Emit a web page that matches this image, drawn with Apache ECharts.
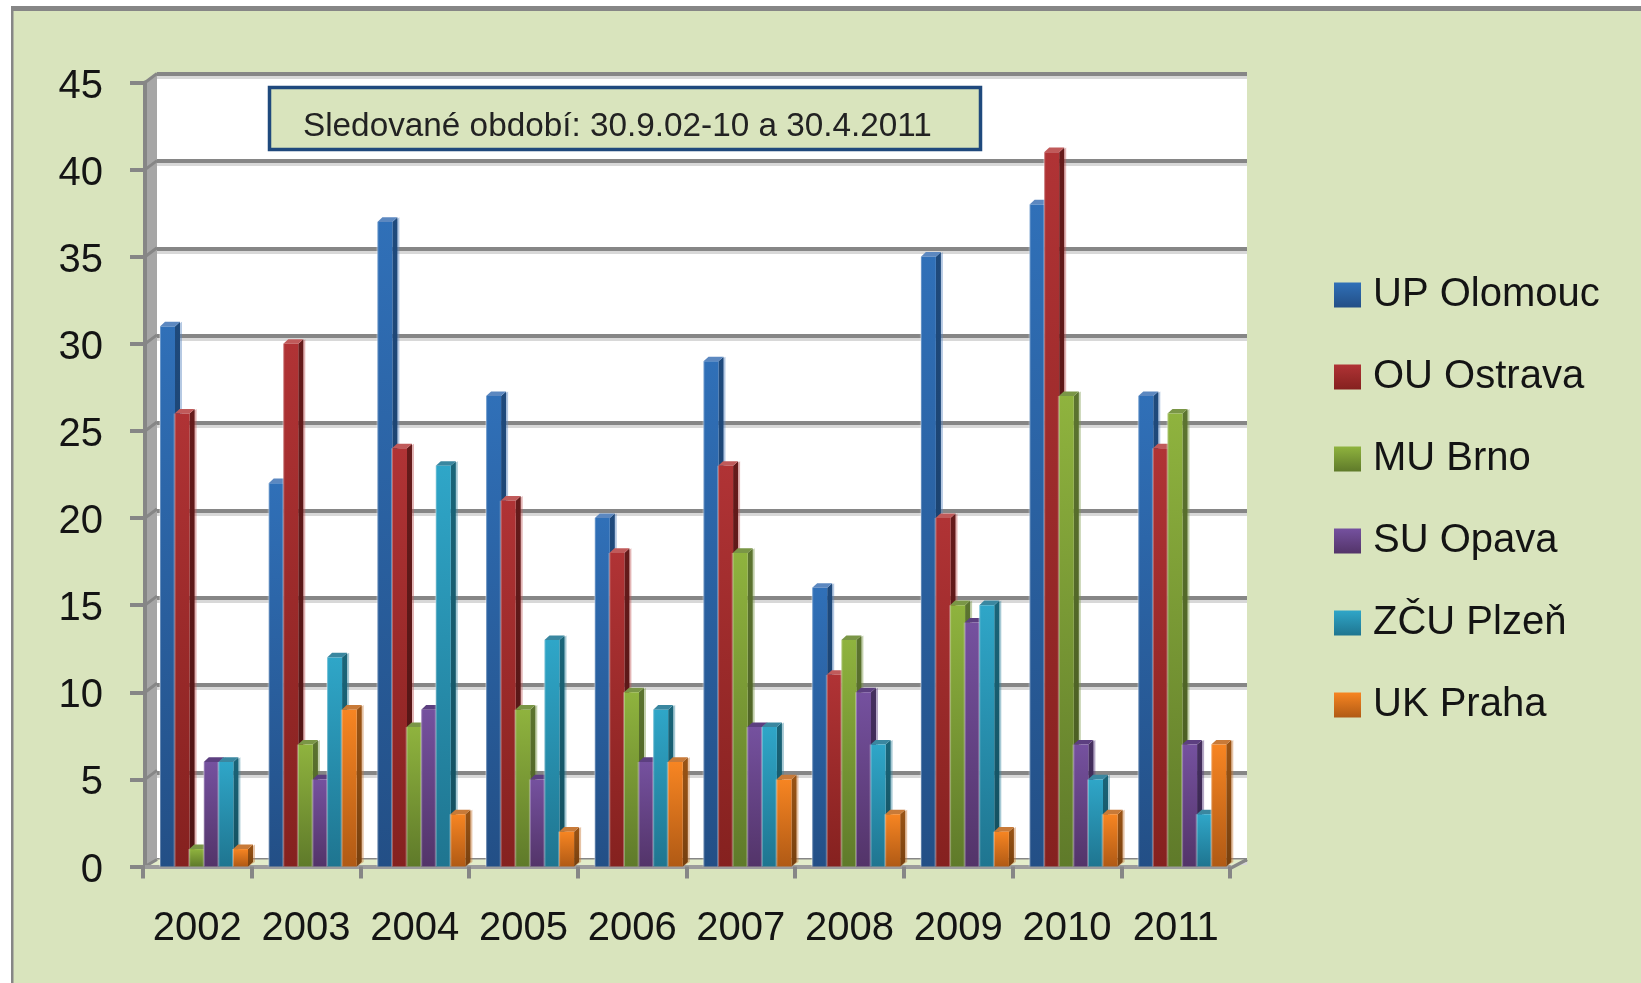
<!DOCTYPE html>
<html>
<head>
<meta charset="utf-8">
<style>html,body{margin:0;padding:0;background:#fff;overflow:hidden}#c{width:1641px;height:983px}</style>
<script src="https://cdn.jsdelivr.net/npm/echarts@6/dist/echarts.min.js"></script>
</head>
<body>
<div id="c"></div>
<script>
const categories = ['2002','2003','2004','2005','2006','2007','2008','2009','2010','2011'];
const upOlomouc = [31,22,37,27,20,29,16,35,38,27];
const ouOstrava = [26,30,24,21,18,23,11,20,41,24];
const muBrno    = [1,7,8,9,10,18,13,15,27,26];
const suOpava   = [6,5,9,5,6,8,10,14,7,7];
const zcuPlzen  = [6,12,23,13,9,8,7,15,5,3];
const ukPraha   = [1,9,3,2,6,5,3,2,3,7];
const seriesNames = ['UP Olomouc','OU Ostrava','MU Brno','SU Opava','ZČU Plzeň','UK Praha'];
const seriesValues = [upOlomouc,ouOstrava,muBrno,suOpava,zcuPlzen,ukPraha];
const yTicks = [0,5,10,15,20,25,30,35,40,45];
const note = 'Sledované období: 30.9.02-10 a 30.4.2011';
const frontTop = ['#3070b8','#b03335','#8fb33e','#75519f','#2fa6c8','#f78522'];
const frontBot = ['#234f86','#85211f','#5f7a2a','#533469','#1f7590','#b05a15'];
const sideTop  = ['#1f4a7c','#651b1b','#5c7430','#46305f','#1a6579','#9a5415'];
const sideBot  = ['#173a63','#4f1414','#47591f','#33224a','#134e5e','#77400f'];
const capCol   = ['#5c88c0','#c05a5a','#7a9646','#5c3f80','#3a87a0','#c87a38'];

const FONT = '"Liberation Sans", Arial, sans-serif';
const TXT = '#141414', GREY = '#868686', BG = '#d9e4bd';
const DX = 14, DY = -7;           // wall depth
const barW = 15, step = 14.6, shift = 6.45, bx = 5, by = -4.6;

const grad = (a, b) => new echarts.graphic.LinearGradient(0, 0, 0, 1, [{offset:0,color:a},{offset:1,color:b}]);
const poly = (pts, style) => ({type:'polygon', shape:{points:pts}, style});

function barSeries(s) {
  return {
    name: seriesNames[s], type: 'custom', xAxisIndex: 0, yAxisIndex: 0, z: 10 + s, clip: false,
    encode: {x: 0, y: 1},
    itemStyle: {color: frontTop[s]},
    data: seriesValues[s].map((v, i) => [i, v]),
    renderItem(params, api) {
      const i = api.value(0), v = api.value(1);
      const top = api.coord([i, v]), base = api.coord([i, 0]);
      const x0 = top[0] + shift + (s - 3) * step, x1 = x0 + barW, y0 = top[1], y1 = base[1];
      return {type: 'group', children: [
        poly([[x1,y0],[x1+bx+2,y0+by],[x1+bx+2,y1+by],[x1,y1]], {fill: capCol[s], opacity: .45}),
        poly([[x1,y0],[x1+bx,y0+by],[x1+bx,y1+by],[x1,y1]], {fill: grad(sideTop[s], sideBot[s])}),
        poly([[x0,y0],[x0+bx,y0+by],[x1+bx,y0+by],[x1,y0]], {fill: capCol[s]}),
        {type:'rect', shape:{x:x0,y:y0,width:barW,height:y1-y0}, style:{fill: grad(frontTop[s], frontBot[s])}},
        {type:'rect', shape:{x:x0-1,y:y0,width:2,height:y1-y0}, style:{fill:'rgba(255,255,255,.28)'}}
      ]};
    }
  };
}

const wallSeries = {
  type: 'custom', xAxisIndex: 0, yAxisIndex: 0, z: 3, clip: false, silent: true,
  encode: {y: 0},
  data: yTicks.map(v => [v]),
  renderItem(params, api) {
    const v = api.value(0), g = params.coordSys;
    const y = api.coord([0, v])[1], L = g.x, R = g.x + g.width;
    const kids = [];
    if (v === 0) {
      kids.push(poly([[L,g.y],[L+DX,g.y+DY-2],[L+DX,y+DY],[L,y]], {fill:'#a6a6a6'}));
      kids.push(poly([[L,y],[L+DX,y+DY],[R+DX+3,y+DY],[R,y]], {fill:'#e3ecca'}));
      kids.push({type:'line', shape:{x1:R,y1:y+2,x2:R+DX+3,y2:y+DY}, style:{stroke:GREY,lineWidth:3.5}});
    }
    kids.push({type:'line', shape:{x1:L+2,y1:y,x2:L+DX,y2:y+DY-(v===0?0:2)}, style:{stroke:GREY,lineWidth:3}});
    return {type:'group', children:kids};
  }
};

const chart = echarts.init(document.getElementById('c'), null, {renderer:'canvas'});
chart.setOption({
  animation: false,
  backgroundColor: '#fff',
  grid: [
    {left: 143, top: 82.5, width: 1087, height: 784},
    {left: 157, top: 73.5, width: 1090, height: 786.5, show: true, backgroundColor: '#fff', borderWidth: 0}
  ],
  xAxis: [
    {type:'category', gridIndex:0, data:categories, offset:2.5, z:6,
     axisLine:{show:true,lineStyle:{color:'#9c9c9c',width:4}},
     axisTick:{show:true,length:12,lineStyle:{color:GREY,width:4}},
     axisLabel:{color:TXT,fontFamily:FONT,fontSize:40,margin:40,interval:0}},
    {type:'category', gridIndex:1, data:categories, show:false}
  ],
  yAxis: [
    {type:'value', gridIndex:0, min:0, max:45, interval:5, offset:-2, z:6,
     axisLine:{show:true,lineStyle:{color:GREY,width:4}},
     axisTick:{show:true,length:15,lineStyle:{color:GREY,width:4}},
     axisLabel:{color:TXT,fontFamily:FONT,fontSize:40,margin:42,verticalAlign:'top',lineHeight:8},
     splitLine:{show:false}},
    {type:'value', gridIndex:1, min:0, max:45, interval:5,
     axisLine:{show:false},axisTick:{show:false},axisLabel:{show:false},
     splitLine:{show:true,lineStyle:{color:GREY,width:4,shadowColor:'#d8d8d8',shadowOffsetY:3,shadowBlur:0}}}
  ],
  legend: {
    orient:'vertical', left:1334, top:272, itemWidth:27, itemHeight:25, itemGap:36, icon:'rect',
    padding:0, selectedMode:false,
    textStyle:{color:TXT,fontFamily:FONT,fontSize:40,padding:[0,0,0,7],lineHeight:46},
    data: seriesNames.map((n, s) => ({name:n, icon:'rect', itemStyle:{color:grad(frontTop[s], frontBot[s])}}))
  },
  graphic: [
    {type:'rect', z:-20, silent:true, shape:{x:11,y:6,width:1700,height:1100}, style:{fill:GREY}},
    {type:'rect', z:-19, silent:true, shape:{x:13.5,y:11,width:1700,height:1100}, style:{fill:BG}},
    {type:'rect', z:50, silent:true, shape:{x:269.5,y:87.5,width:711,height:62}, style:{fill:BG,stroke:'#1f497d',lineWidth:3.5}},
    {type:'text', z:51, silent:true, x:303, y:127, style:{text:note,fill:'#222',font:'33.3px '+FONT,textVerticalAlign:'middle',verticalAlign:'middle'}}
  ],
  series: [wallSeries].concat(seriesNames.map((_, s) => barSeries(s)))
});
</script>
</body>
</html>
